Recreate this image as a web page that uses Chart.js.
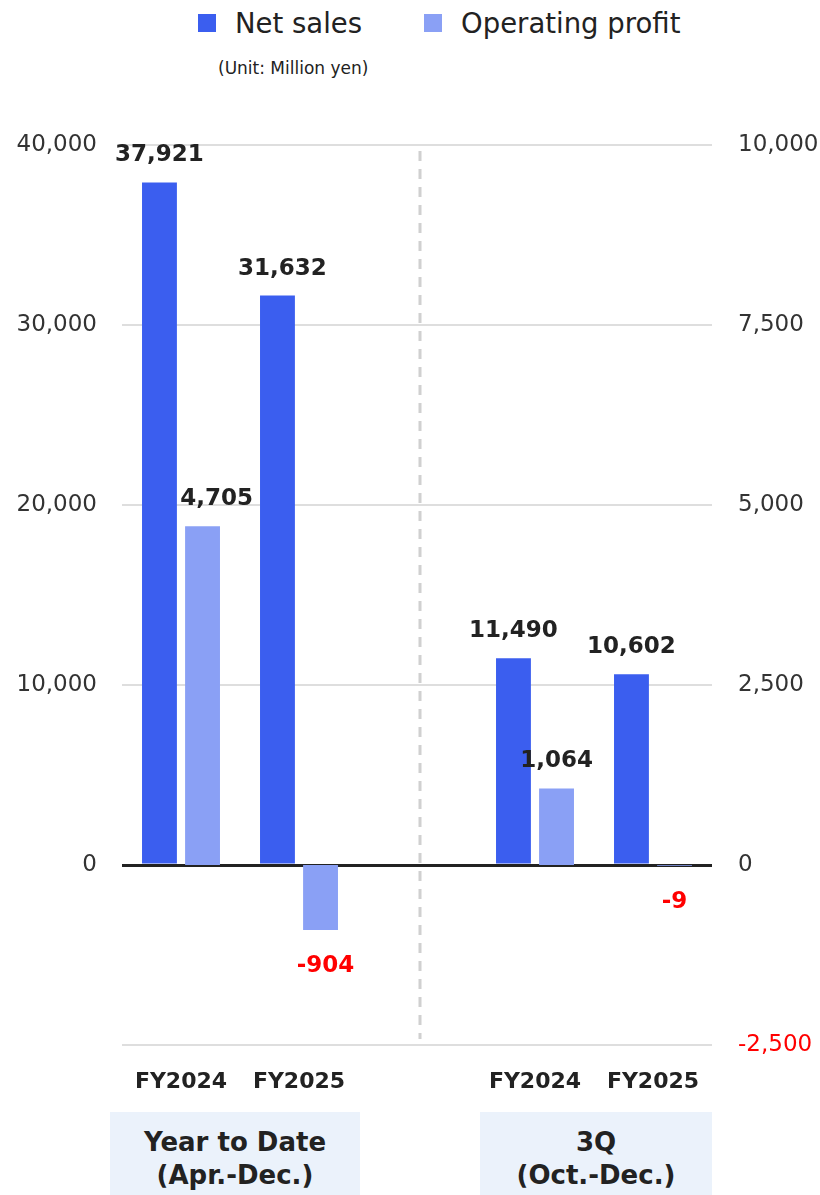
<!DOCTYPE html>
<html>
<head>
<meta charset="utf-8">
<script src="https://cdn.jsdelivr.net/npm/chart.js@4/dist/chart.umd.min.js"></script>
<style>
  html, body { margin: 0; padding: 0; background: #fff; }
  body { width: 820px; height: 1195px; position: relative; overflow: hidden; font-family: "DejaVu Sans", Verdana, sans-serif; color: #222; }
  #wrap { position: absolute; left: 0; top: 0; width: 820px; height: 1100px; }
  .legend { position: absolute; top: 7px; left: 198px; display: flex; align-items: center; font-size: 27.5px; color: #222; }
  .legend .item { display: flex; align-items: center; }
  .legend .sw { width: 18px; height: 18px; margin-right: 19px; }
  .legend .item + .item { margin-left: 62px; }
  .unit { position: absolute; top: 58px; left: 218px; font-size: 17px; color: #222; }
  .group { position: absolute; top: 1112px; height: 90px; background: #ebf2fb; text-align: center; font-weight: bold; font-size: 26px; line-height: 33px; padding-top: 14px; box-sizing: border-box; color: #222; }
</style>
</head>
<body>
<div class="legend">
  <div class="item"><span class="sw" style="background:#3b5eef"></span>Net sales</div>
  <div class="item"><span class="sw" style="background:#8aa0f5"></span>Operating profit</div>
</div>
<div class="unit">(Unit: Million yen)</div>
<div id="wrap"><canvas id="chart" width="820" height="1100"></canvas></div>
<div class="group" style="left:110px;width:250px;">Year to Date<br>(Apr.-Dec.)</div>
<div class="group" style="left:480px;width:232px;">3Q<br>(Oct.-Dec.)</div>

<script>
// Categories: YTD pair, spacer, 3Q pair
const labels = ['FY2024', 'FY2025', '', 'FY2024', 'FY2025'];
const netSales = [37921, 31632, null, 11490, 10602];
const operatingProfit = [4705, -904, null, 1064, -9];

const leftTicks = [-10000, 0, 10000, 20000, 30000, 40000];
const rightTicks = [-2500, 0, 2500, 5000, 7500, 10000];

const fmt = v => v.toLocaleString('en-US');

// value labels above (or below, for negatives) each bar
const valueLabels = {
    id: 'valueLabels',
    afterDatasetsDraw(chart, args, opts){
        const ctx = chart.ctx;
        ctx.save();
        ctx.font = 'bold 23px "DejaVu Sans", Verdana, sans-serif';
        ctx.textAlign = 'center';
        ctx.textBaseline = 'middle';
        chart.data.datasets.forEach((ds, di) => {
            chart.getDatasetMeta(di).data.forEach((bar, i) => {
                const v = ds.data[i];
                if(v === null || v === undefined) return;
                const shift = (opts.nudge && opts.nudge[di + ':' + i]) || 0;
                if(v < 0){
                    ctx.fillStyle = '#ff0000';
                    ctx.fillText(fmt(v), bar.x + shift, bar.y + 36);
                } else {
                    ctx.fillStyle = '#222';
                    ctx.fillText(fmt(v), bar.x + shift, bar.y - 27);
                }
            });
        });
        ctx.restore();
    }
};

// dashed separator between the two period groups
const separator = {
    id: 'separator',
    beforeDatasetsDraw(chart){
        const x = chart.scales.x.getPixelForValue(2) + 3;
        const a = chart.chartArea;
        const ctx = chart.ctx;
        ctx.save();
        ctx.strokeStyle = '#d0d0d0';
        ctx.lineWidth = 3;
        ctx.setLineDash([10, 8]);
        ctx.beginPath();
        ctx.moveTo(x, a.top + 6);
        ctx.lineTo(x, a.bottom - 6);
        ctx.stroke();
        ctx.restore();
    }
};

new Chart(document.getElementById('chart'), {
    type: 'bar',
    data: {
        labels,
        datasets: [
            { label: 'Net sales', data: netSales, yAxisID: 'y', backgroundColor: '#3b5eef', borderWidth: 0 },
            { label: 'Operating profit', data: operatingProfit, yAxisID: 'y1', backgroundColor: '#8aa0f5', borderWidth: 0 }
        ]
    },
    options: {
        responsive: false,
        animation: false,
        layout: { padding: { top: 145, left: 0, right: 0, bottom: 0 } },
        categoryPercentage: 0.73,
        barPercentage: 0.81,
        plugins: {
            legend: { display: false },
            tooltip: { enabled: false },
            valueLabels: { nudge: { '1:0': 14, '1:1': 5, '0:1': 5 } }
        },
        scales: {
            x: {
                grid: { display: false, drawTicks: false },
                border: { display: false },
                ticks: { color: '#222', font: { family: '"DejaVu Sans", Verdana, sans-serif', size: 22, weight: 'bold' }, padding: 24, maxRotation: 0, autoSkip: false },
                afterFit(scale){ scale.height = 55; }
            },
            y: {
                position: 'left',
                min: -10000, max: 40000,
                afterBuildTicks(scale){ scale.ticks = leftTicks.map(v => ({ value: v })); },
                grid: {
                    drawTicks: false,
                    color: c => c.tick && c.tick.value === 0 ? '#222' : '#dedede',
                    lineWidth: c => c.tick && c.tick.value === 0 ? 3 : 2
                },
                border: { display: false },
                ticks: {
                    color: '#333', padding: 25,
                    font: { family: '"DejaVu Sans", Verdana, sans-serif', size: 23 },
                    callback: v => v < 0 ? '' : fmt(v)
                },
                afterFit(scale){ scale.width = 122; }
            },
            y1: {
                position: 'right',
                min: -2500, max: 10000,
                afterBuildTicks(scale){ scale.ticks = rightTicks.map(v => ({ value: v })); },
                grid: { display: false, drawTicks: false },
                border: { display: false },
                ticks: {
                    padding: 26,
                    color: c => c.tick && c.tick.value < 0 ? '#ff0000' : '#333',
                    font: { family: '"DejaVu Sans", Verdana, sans-serif', size: 23 },
                    callback: v => fmt(v)
                },
                afterFit(scale){ scale.width = 108; }
            }
        }
    },
    plugins: [separator, valueLabels]
});
</script>
</body>
</html>
